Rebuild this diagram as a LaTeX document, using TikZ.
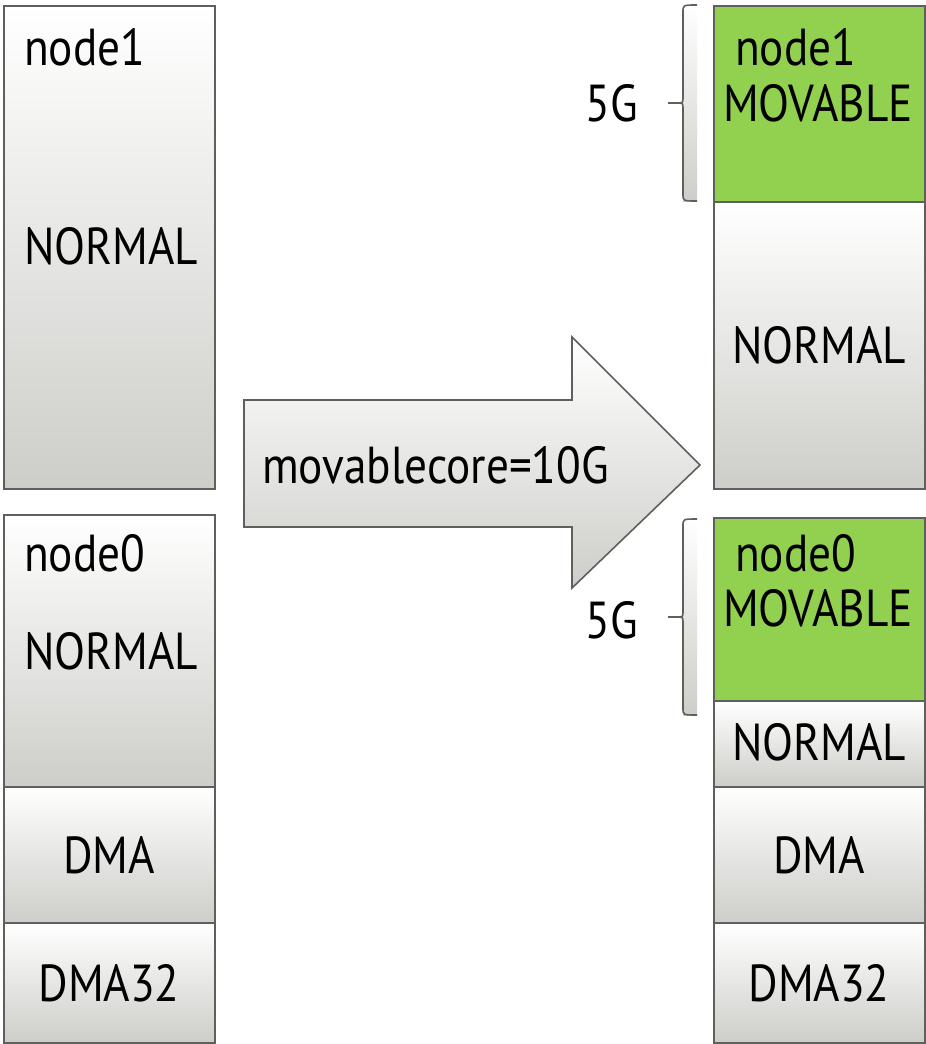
\documentclass[tikz,border=0pt]{standalone}
\usepackage{fontspec}
\setmainfont[FakeStretch=0.87]{PT Sans}
\definecolor{edge}{RGB}{95,96,92}
\definecolor{shadegray}{RGB}{205,206,201}
\definecolor{movgreen}{RGB}{146,208,80}
\tikzset{
  zone/.style={draw=edge, line width=2pt, top color=white, bottom color=shadegray, inner sep=0pt, anchor=north west},
  movzone/.style={draw=edge, line width=2pt, fill=movgreen, inner sep=0pt, anchor=north west},
  lbl/.style={inner sep=0pt, font=\fontsize{52}{56}\selectfont},
  brace/.style={draw=edge, line width=1.6pt},
}
\begin{document}
\begin{tikzpicture}[x=1pt,y=-1pt]
\useasboundingbox (0,0) rectangle (926,1044);
% left column
\node[zone, minimum width=211pt, minimum height=483pt] (l1) at (3,5) {};
\node[zone, minimum width=211pt, minimum height=272pt] (l0) at (3,514) {};
\node[zone, minimum width=211pt, minimum height=136pt] (ldma) at (3,786) {};
\node[zone, minimum width=211pt, minimum height=120pt] (ldma32) at (3,922) {};
\node[lbl, anchor=west] (tl1) at (24,47) {node1};
\node[lbl, anchor=west] (tl1n) at (24,246) {NORMAL};
\node[lbl, anchor=west] (tl0) at (24,553) {node0};
\node[lbl, anchor=west] (tl0n) at (24,651) {NORMAL};
\node[lbl] (tldma) at (109,855) {DMA};
\node[lbl] (tldma32) at (109,983) {DMA32};
% right column
\node[movzone, minimum width=211pt, minimum height=196pt] (r1m) at (713,5) {};
\node[zone, minimum width=211pt, minimum height=287pt] (r1n) at (713,201) {};
\node[movzone, minimum width=211pt, minimum height=183pt] (r0m) at (713,517) {};
\node[zone, minimum width=211pt, minimum height=86pt] (r0n) at (713,700) {};
\node[zone, minimum width=211pt, minimum height=136pt] (rdma) at (713,786) {};
\node[zone, minimum width=211pt, minimum height=120pt] (rdma32) at (713,922) {};
\node[lbl, anchor=west] (tr1) at (735,47) {node1};
\node[lbl, anchor=west] (tr1m) at (723,103) {MOVABLE};
\node[lbl] (tr1n) at (819,345) {NORMAL};
\node[lbl, anchor=west] (tr0) at (735,553) {node0};
\node[lbl, anchor=west] (tr0m) at (723,608) {MOVABLE};
\node[lbl] (tr0n) at (819,742) {NORMAL};
\node[lbl] (trdma) at (819,855) {DMA};
\node[lbl] (trdma32) at (819,983) {DMA32};
% braces
\shade[top color=white, bottom color=shadegray] (683,5) rectangle (697,201);
\draw[brace] (668,103) -- (677,103) .. controls (683,103) .. (683,97) -- (683,12) .. controls (683,5) .. (697,5);
\draw[brace] (677,103) .. controls (683,103) .. (683,109) -- (683,194) .. controls (683,201) .. (697,201);
\shade[top color=white, bottom color=shadegray] (683,519) rectangle (697,715);
\draw[brace] (668,617) -- (677,617) .. controls (683,617) .. (683,611) -- (683,526) .. controls (683,519) .. (697,519);
\draw[brace] (677,617) .. controls (683,617) .. (683,623) -- (683,708) .. controls (683,715) .. (697,715);
\node[lbl] (g1) at (612,103) {5G};
\node[lbl] (g0) at (612,620) {5G};
% arrow
\shade[top color=white, bottom color=shadegray, draw=edge, line width=1.6pt]
  (244,400) -- (572,400) -- (572,337) -- (700,465) -- (572,588) -- (572,527) -- (244,527) -- cycle;
\node[lbl, anchor=west] (arr) at (262,465) {movablecore=10G};
\end{tikzpicture}
\end{document}
